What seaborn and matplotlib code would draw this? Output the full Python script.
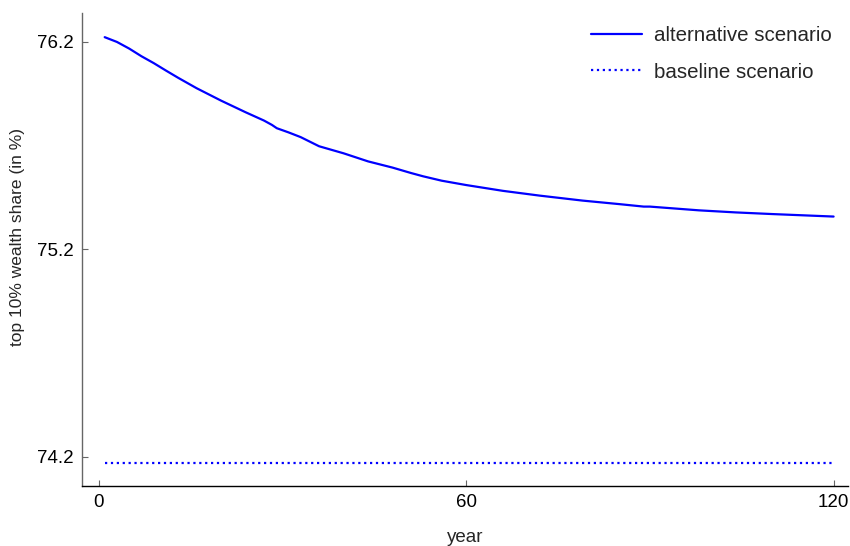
import numpy as np
import pandas as pd
import seaborn as sns
import matplotlib
matplotlib.use("Agg")
import matplotlib.pyplot as plt

# values
years = [1, 3, 5, 7, 9, 11, 13, 16, 20, 24, 27, 28.3, 29.1, 31, 33, 36, 40, 44, 48,
         51, 53, 56, 60, 66, 72, 79, 85, 89, 90, 94, 98, 104, 110, 115, 120]
alt_share = [76.223, 76.200, 76.168, 76.131, 76.098, 76.062, 76.027, 75.977, 75.917,
             75.861, 75.821, 75.800, 75.784, 75.764, 75.741, 75.697, 75.663, 75.624,
             75.594, 75.568, 75.552, 75.531, 75.510, 75.482, 75.459, 75.435, 75.418,
             75.406, 75.406, 75.397, 75.388, 75.378, 75.370, 75.364, 75.358]
base_years = [1, 120]
base_share = [74.171, 74.171]

df_alt = pd.DataFrame({"year": years, "share": alt_share})
df_base = pd.DataFrame({"year": base_years, "share": base_share})

sns.set_style("ticks")
plt.rcParams["font.family"] = ["Liberation Sans", "DejaVu Sans"]

fig = plt.figure(figsize=(8.5, 5.46), dpi=100)
ax = fig.add_axes([0.0965, 0.110, 0.9015, 0.8656])

sns.lineplot(data=df_alt, x="year", y="share", ax=ax, color="#0000ff",
             linewidth=1.6, label="alternative scenario")
sns.lineplot(data=df_base, x="year", y="share", ax=ax, color="#0000ff",
             linewidth=1.6, linestyle=":", label="baseline scenario")

ax.set_xlim(-2.7, 122.4)
ax.set_ylim(74.059, 76.338)
ax.set_xticks([0, 60, 120])
ax.set_yticks([74.2, 75.2, 76.2])
ax.set_yticklabels(["74.2", "75.2", "76.2"])
ax.tick_params(direction="in", length=4, width=0.8, labelsize=13.5, pad=6,
               colors="0.4", labelcolor="black")

ax.set_xlabel("year", fontsize=13.5, labelpad=13)
ax.set_ylabel("top 10% wealth share (in %)", fontsize=12.5)
ax.yaxis.set_label_coords(-0.0745, 0.527)

ax.spines["top"].set_visible(False)
ax.spines["right"].set_visible(False)
ax.spines["left"].set_color("0.4")
ax.spines["bottom"].set_color("black")
ax.spines["left"].set_linewidth(1.0)
ax.spines["bottom"].set_linewidth(1.0)

ax.legend(loc="upper right", frameon=False, fontsize=14.8, handlelength=2.5,
          handletextpad=0.55, labelspacing=0.85, bbox_to_anchor=(1.002, 1.012))

fig.savefig("out.png", dpi=100)
